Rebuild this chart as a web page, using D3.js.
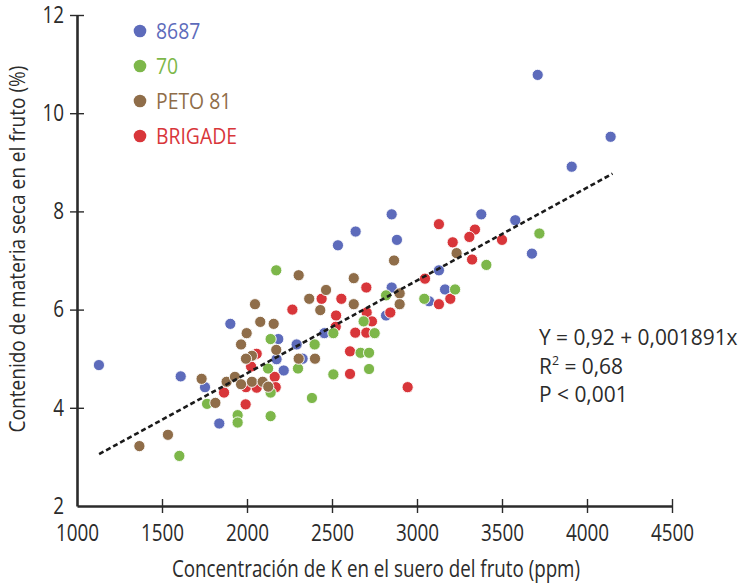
<!DOCTYPE html>
<html>
<head>
<meta charset="utf-8">
<script src="https://cdn.jsdelivr.net/npm/d3@7"></script>
<style>
  body { margin: 0; background: #fff; }
  text { font-family: "Open Sans", "Noto Sans", sans-serif; }
</style>
</head>
<body>
<svg id="chart"></svg>
<script>
// ---------------------------------------------------------------------------
// Data (K concentration in ppm, dry matter %)
// ---------------------------------------------------------------------------

const cultivars = ["8687", "70", "PETO 81", "BRIGADE"];

const points8687 = [
  [1129, 4.87], [1610, 4.64], [1753, 4.42], [1837, 3.68], [1902, 5.71],
  [2184, 5.40], [2174, 4.99], [2216, 4.76], [2292, 5.29], [2327, 5.00],
  [2455, 5.52], [2851, 7.94], [3378, 7.94], [2639, 7.59], [2535, 7.31],
  [2882, 7.42], [3129, 6.80], [3165, 6.41], [3071, 6.17], [2851, 6.45],
  [2818, 5.88], [3578, 7.82], [3676, 7.14], [3710, 10.78], [4139, 9.52],
  [3910, 8.91]
];

const points70 = [
  [1765, 4.08], [1602, 3.02], [1945, 3.85], [1945, 3.70], [2139, 5.40],
  [2124, 4.80], [2139, 4.31], [2139, 3.83], [2398, 5.29], [2300, 4.80],
  [2382, 4.20], [2172, 6.80], [2686, 5.76], [2508, 5.52], [2751, 5.52],
  [2818, 6.29], [2668, 5.12], [2718, 5.12], [2508, 4.68], [2718, 4.79],
  [3408, 6.91], [3224, 6.41], [3043, 6.22], [3720, 7.55]
];

const pointsPeto81 = [
  [1733, 4.59], [1814, 4.10], [1367, 3.22], [1535, 3.45], [1880, 4.53],
  [1929, 4.63], [1965, 4.48], [2047, 6.11], [2078, 5.75], [2157, 5.71],
  [1998, 5.52], [1965, 5.29], [2172, 5.18], [2029, 5.06], [1994, 5.00],
  [2029, 4.53], [2092, 4.53], [2125, 4.43], [2366, 6.22], [2465, 6.40],
  [2431, 5.99], [2304, 5.00], [2400, 5.00], [2304, 6.70], [2628, 6.64],
  [2628, 6.11], [2898, 6.33], [2898, 6.11], [2865, 7.00], [3233, 7.15]
];

const pointsBrigade = [
  [1865, 4.31], [1992, 4.07], [2057, 5.10], [2024, 4.84], [2163, 4.63],
  [1994, 4.42], [2057, 4.41], [2169, 4.42], [2267, 6.00], [2439, 6.22],
  [3129, 7.74], [3341, 7.63], [3308, 7.48], [3210, 7.37], [3324, 7.02],
  [3047, 6.63], [3196, 6.22], [3129, 6.11], [2555, 6.22], [2702, 6.45],
  [2524, 5.88], [2704, 5.94], [2735, 5.76], [2522, 5.65], [2637, 5.53],
  [2702, 5.53], [2843, 5.94], [2606, 5.15], [2606, 4.69], [2945, 4.42],
  [3500, 7.42]
];

// fitted line Y = 0.92 + 0.001891x, drawn over this K range
const fitIntercept = 0.92;
const fitSlope = 0.001891;
const fitRange = [1130, 4150];

const xTicks = [1000, 1500, 2000, 2500, 3000, 3500, 4000, 4500];
const yTicks = [2, 4, 6, 8, 10, 12];

const statLines = ["Y = 0,92 + 0,001891x", "R|2| = 0,68", "P < 0,001"];

// ---------------------------------------------------------------------------
// Config
// ---------------------------------------------------------------------------

const W = 743, H = 587;
const COLORS = {
  "8687": "#5d6bbb",
  "70": "#7db74a",
  "PETO 81": "#8f6d49",
  "BRIGADE": "#d8363a"
};
const INK = "#2b2b2b";

const svg = d3.select("#chart").attr("width", W).attr("height", H);

const x = d3.scaleLinear().domain([1000, 4500]).range([77, 672]);
const y = d3.scaleLinear().domain([2, 12]).range([506, 15]);

// the original type is a narrow face: squeeze Open Sans horizontally
function condense(sel, factor) {
  sel.each(function () {
    const len = this.getComputedTextLength();
    d3.select(this)
      .attr("textLength", len * factor)
      .attr("lengthAdjust", "spacingAndGlyphs");
  });
}

// ---------------------------------------------------------------------------
// Axes
// ---------------------------------------------------------------------------

const xAxis = svg.append("g").attr("transform", `translate(0,${y(2)})`)
  .call(d3.axisBottom(x).tickValues(xTicks).tickFormat(d3.format("d"))
    .tickSizeInner(7).tickSizeOuter(0).tickPadding(12));
xAxis.select(".domain").attr("stroke", INK).attr("stroke-width", 2.6);
xAxis.selectAll(".tick line").attr("stroke", INK).attr("stroke-width", 1.4)
  .attr("y1", -7);
xAxis.selectAll(".tick text").attr("fill", INK).attr("font-size", 23)
  .attr("font-family", "Open Sans");

const yAxis = svg.append("g").attr("transform", `translate(${x(1000)},0)`)
  .call(d3.axisLeft(y).tickValues(yTicks).tickFormat(d3.format("d"))
    .tickSizeInner(7).tickSizeOuter(0).tickPadding(6));
yAxis.select(".domain").attr("stroke", INK).attr("stroke-width", 2.6);
yAxis.selectAll(".tick line").attr("stroke", INK).attr("stroke-width", 1.4)
  .attr("x2", 7).attr("x1", -7);
yAxis.selectAll(".tick text").attr("fill", INK).attr("font-size", 23)
  .attr("font-family", "Open Sans");
// bottom tick sits on the corner, hide its line
yAxis.selectAll(".tick").filter(d => d === 2).select("line").remove();
xAxis.selectAll(".tick").filter(d => d === 1000).select("line").remove();

condense(xAxis.selectAll(".tick text"), 0.82);
condense(yAxis.selectAll(".tick text"), 0.82);

const xTitle = svg.append("text")
  .attr("x", 376)
  .attr("y", 577)
  .attr("text-anchor", "middle")
  .attr("font-size", 23)
  .attr("fill", INK)
  .text("Concentración de K en el suero del fruto (ppm)");
xTitle.attr("textLength", 408).attr("lengthAdjust", "spacingAndGlyphs");

const yTitle = svg.append("text")
  .attr("transform", "translate(25,249) rotate(-90)")
  .attr("text-anchor", "middle")
  .attr("font-size", 21)
  .attr("fill", INK)
  .text("Contenido de materia seca en el fruto (%)");
yTitle.attr("textLength", 367).attr("lengthAdjust", "spacingAndGlyphs");

// ---------------------------------------------------------------------------
// Points and fit
// ---------------------------------------------------------------------------

const series = [
  { name: "8687", pts: points8687 },
  { name: "BRIGADE", pts: pointsBrigade },
  { name: "70", pts: points70 },
  { name: "PETO 81", pts: pointsPeto81 }
];

series.forEach(s => {
  svg.append("g").selectAll("circle")
    .data(s.pts)
    .enter()
    .append("circle")
    .attr("cx", d => x(d[0]))
    .attr("cy", d => y(d[1]))
    .attr("r", 5.6)
    .attr("fill", COLORS[s.name])
    .attr("stroke", "#fff")
    .attr("stroke-width", 0.9);
});

svg.append("path")
  .datum(fitRange)
  .attr("d", d3.line().x(d => x(d)).y(d => y(fitIntercept + fitSlope * d)))
  .attr("fill", "none")
  .attr("stroke", "#1a1a1a")
  .attr("stroke-width", 2.6)
  .attr("stroke-dasharray", "5,3");

// ---------------------------------------------------------------------------
// Legend and stats
// ---------------------------------------------------------------------------

const legend = svg.append("g");
cultivars.forEach((c, i) => {
  const cy = 31 + i * 35;
  legend.append("circle").attr("cx", 140).attr("cy", cy).attr("r", 6.3)
    .attr("fill", COLORS[c]);
  legend.append("text").attr("x", 156).attr("y", cy + 8)
    .attr("font-size", 22).attr("fill", COLORS[c]).text(c);
});
condense(legend.selectAll("text"), 0.88);

const stats = svg.append("g");
statLines.forEach((line, i) => {
  const t = stats.append("text").attr("x", 539).attr("y", 345 + i * 28.5)
    .attr("font-size", 22).attr("fill", INK);
  line.split("|").forEach((part, j) => {
    const ts = t.append("tspan").text(part);
    if (j === 1) ts.attr("font-size", 13).attr("dy", -9);
    if (j === 2) ts.attr("dy", 9);
  });
});
condense(stats.selectAll("text"), 0.95);
</script>
</body>
</html>
